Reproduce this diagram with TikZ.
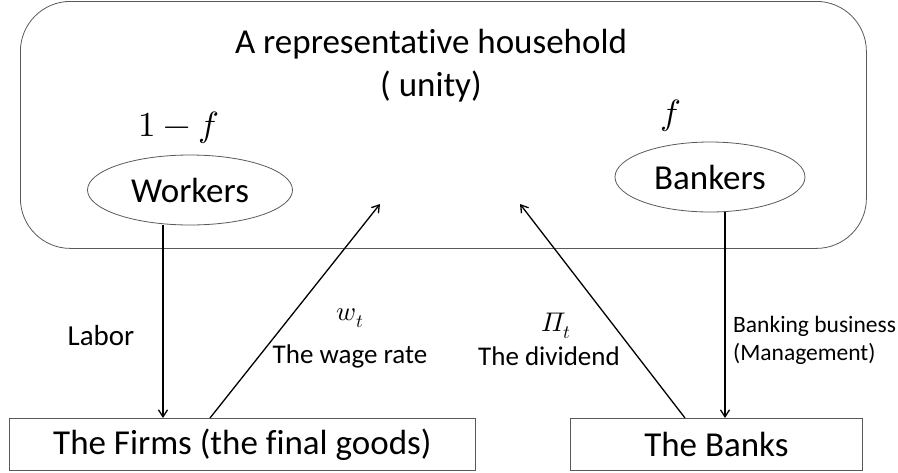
\documentclass[tikz,border=0pt]{standalone}
\usepackage{fontspec}
\usepackage[math-style=ISO]{unicode-math}
\setmainfont{Carlito}[Ligatures=NoCommon]
\setmathfont{Latin Modern Math}
\usetikzlibrary{shapes.geometric,arrows.meta}
\begin{document}
\begin{tikzpicture}[x=1pt,y=-1pt,
  frame/.style={draw=black!65,line width=0.8pt},
  conn/.style={draw=black,line width=1.3pt,-{Straight Barb[length=7pt,width=9pt]}},
  bigtext/.style={font=\fontsize{35}{43}\selectfont},
  midtext/.style={font=\fontsize{27}{32}\selectfont},
  smalltext/.style={font=\fontsize{23.5}{28}\selectfont}]
\useasboundingbox (0,0) rectangle (898,472);
\node[frame,rounded corners=50pt,minimum width=846pt,minimum height=247pt,anchor=north west] (house) at (20,1) {};
\node[bigtext,align=center] (title) at (431,66) {A representative household\\( unity)};
\node[bigtext] (onef) at (179,128) {$1-f$};
\node[bigtext] (f) at (671,116) {$f$};
\node[frame,ellipse,minimum width=205pt,minimum height=70pt,inner sep=0pt,bigtext] (workers) at (190,190) {Workers};
\node[frame,ellipse,minimum width=190pt,minimum height=70pt,inner sep=0pt,bigtext] (bankers) at (710,177) {Bankers};
\node[frame,minimum width=466pt,minimum height=52pt,anchor=north west,bigtext,inner sep=0pt] (firms) at (9,418) {The Firms (the final goods)};
\node[frame,minimum width=292pt,minimum height=52pt,anchor=north west,bigtext,inner sep=0pt] (banks) at (570,418) {The Banks};
\coordinate (wtip) at (380,204);
\coordinate (dtip) at (520,204);
\draw[conn] (workers.south -| 163,0) -- (firms.north -| 163,0);
\draw[conn] (firms.north -| 210,0) -- (wtip);
\draw[conn] (banks.north -| 685,0) -- (dtip);
\draw[conn] (bankers.south -| 725,0) -- (banks.north -| 725,0);
\node[midtext,font=\fontsize{29}{34}\selectfont] (labor) at (101,336) {Labor};
\node[midtext] (wt) at (350,318) {$w_t$};
\node[midtext] (wage) at (350,356) {The wage rate};
\node[midtext] (pit) at (556,326) {$\Pi_t$};
\node[midtext] (div) at (549,356) {The dividend};
\node[smalltext,align=left,anchor=west,inner sep=0pt] (bb) at (733,340) {Banking business\\(Management)};
\end{tikzpicture}
\end{document}
